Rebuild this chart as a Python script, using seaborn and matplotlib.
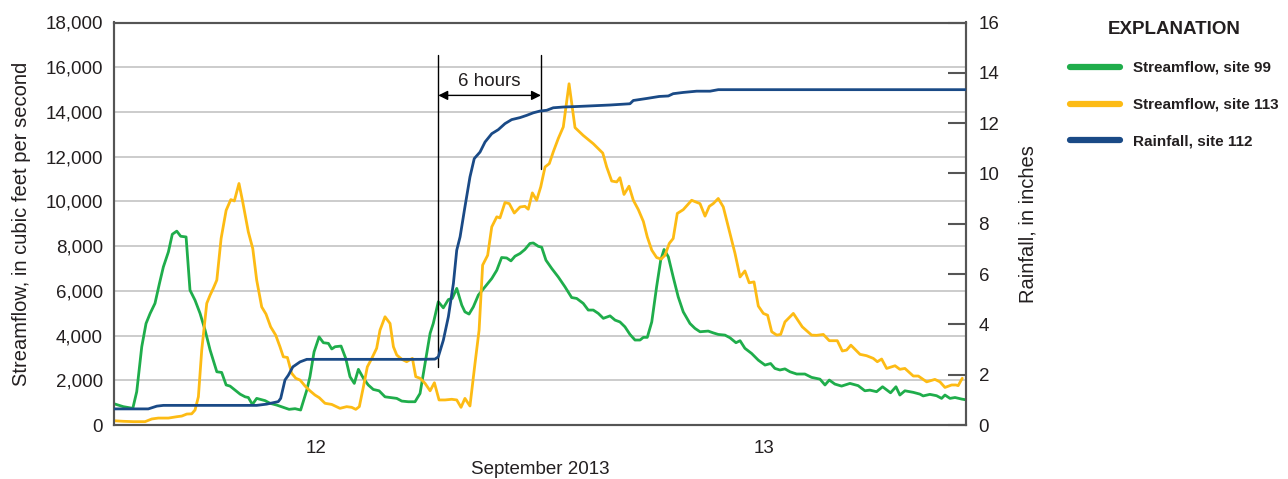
import numpy as np
import pandas as pd
import matplotlib
matplotlib.use("Agg")
import matplotlib.pyplot as plt
from matplotlib.lines import Line2D
import seaborn as sns

# ---------------- data (hours after 2013-09-12 00:00) ----------------
site99_hours = [1.13, 1.63, 2.14, 2.35, 2.62, 2.85, 3.07, 3.33, 3.57, 3.78, 4.05, 4.26, 4.50, 4.71, 5.00,
                5.21, 5.48, 5.75, 6.02, 6.29, 6.65, 6.91, 7.15, 7.36, 7.63, 7.90, 8.17, 8.34, 8.56, 8.79,
                9.24, 9.51, 9.87, 10.22, 10.53, 10.85, 11.15, 11.48, 11.65, 11.87, 12.14, 12.37, 12.64,
                12.82, 13.00, 13.32, 13.57, 13.80, 14.03, 14.25, 14.52, 14.78, 15.05, 15.36, 15.68, 16.04,
                16.31, 16.58, 16.93, 17.29, 17.56, 17.83, 18.10, 18.27, 18.54, 18.81, 19.08, 19.29, 19.53,
                19.80, 19.97, 20.19, 20.42, 20.69, 21.05, 21.41, 21.68, 21.94, 22.21, 22.44, 22.66, 22.93,
                23.19, 23.46, 23.64, 23.91, 24.09, 24.32, 24.63, 24.98, 25.34, 25.70, 25.97, 26.32, 26.59,
                26.86, 27.13, 27.40, 27.76, 28.03, 28.29, 28.56, 28.83, 29.10, 29.37, 29.55, 29.76, 30.00,
                30.26, 30.48, 30.66, 30.89, 31.15, 31.42, 31.69, 32.05, 32.32, 32.59, 33.03, 33.30, 33.57,
                33.93, 34.20, 34.52, 34.74, 35.00, 35.36, 35.72, 36.08, 36.38, 36.61, 36.88, 37.15, 37.42,
                37.78, 38.22, 38.58, 39.03, 39.30, 39.53, 39.83, 40.19, 40.64, 41.08, 41.44, 41.71, 42.07,
                42.39, 42.82, 43.11, 43.32, 43.59, 44.04, 44.40, 44.57, 44.93, 45.29, 45.56, 45.74, 46.01,
                46.28, 46.64, 46.90]
site99_cfs = [950, 820, 745, 1490, 3500, 4540, 4990, 5440, 6330, 7070, 7740, 8530, 8670, 8440, 8410,
              6030, 5580, 4990, 4240, 3350, 2380, 2350, 1790, 1740, 1560, 1380, 1260, 1230, 920, 1190,
              1090, 970, 890, 790, 700, 730, 670, 1560, 2160, 3270, 3940, 3680, 3650,
              3400, 3500, 3530, 2980, 2160, 1860, 2490, 2090, 1790, 1590, 1530, 1260, 1220,
              1190, 1070, 1040, 1040, 1410, 2750, 4100, 4540, 5510, 5240, 5610, 5660, 6110,
              5360, 5060, 4960, 5280, 5810, 6180, 6550, 6920, 7490, 7470, 7340, 7550, 7670,
              7850, 8120, 8140, 7990, 7950, 7370, 7000, 6620, 6180, 5700, 5660, 5440, 5140,
              5140, 4990, 4770, 4880, 4690, 4610, 4390, 4050, 3800, 3800, 3920, 3920, 4610,
              6180, 7370, 7850, 7520, 6620, 5730, 5060, 4540, 4320, 4170, 4200, 4120, 4050,
              4020, 3900, 3680, 3770, 3430, 3200, 2900, 2680, 2750, 2530, 2460, 2510, 2380,
              2280, 2280, 2130, 2050, 1790, 2010, 1830, 1740, 1860, 1760, 1530, 1560, 1490,
              1710, 1440, 1710, 1340, 1530, 1460, 1380, 1300, 1370, 1310, 1190, 1340, 1190,
              1230, 1160, 1120]

site113_hours = [1.13, 1.63, 2.17, 2.80, 3.16, 3.51, 4.05, 4.50, 4.77, 5.04, 5.30, 5.48, 5.66, 5.84, 6.11,
                 6.29, 6.46, 6.65, 6.88, 7.15, 7.40, 7.59, 7.84, 8.04, 8.34, 8.58, 8.79, 9.06, 9.29, 9.54,
                 9.81, 10.04, 10.22, 10.44, 10.67, 10.89, 11.12, 11.39, 11.65, 11.92, 12.15, 12.46, 12.82,
                 13.26, 13.62, 13.89, 14.11, 14.30, 14.52, 14.73, 14.97, 15.23, 15.41, 15.68, 15.95, 16.13,
                 16.31, 16.58, 16.84, 17.15, 17.33, 17.56, 17.83, 18.10, 18.33, 18.58, 18.90, 19.26, 19.53,
                 19.76, 19.97, 20.24, 20.51, 20.73, 20.92, 21.19, 21.41, 21.68, 21.85, 22.12, 22.35, 22.62,
                 22.93, 23.19, 23.37, 23.59, 23.82, 24.04, 24.27, 24.50, 24.71, 24.98, 25.25, 25.56, 25.88,
                 26.32, 26.86, 27.37, 27.58, 27.85, 28.12, 28.29, 28.51, 28.78, 29.01, 29.28, 29.55, 29.76,
                 30.00, 30.26, 30.50, 30.71, 30.94, 31.15, 31.37, 31.69, 32.14, 32.59, 32.86, 33.09, 33.30,
                 33.57, 33.84, 34.11, 34.47, 34.74, 35.00, 35.23, 35.49, 35.72, 35.99, 36.22, 36.44, 36.71,
                 36.92, 37.15, 37.60, 38.08, 38.58, 38.85, 39.21, 39.53, 39.96, 40.23, 40.46, 40.69, 41.18,
                 41.53, 41.89, 42.11, 42.34, 42.61, 43.06, 43.32, 43.59, 44.04, 44.31, 44.76, 45.20, 45.47,
                 45.74, 46.10, 46.33, 46.45, 46.67]
site113_cfs = [190, 165, 150, 150, 270, 310, 310, 370, 400, 490, 500, 670, 1260, 3350, 5440,
               5810, 6110, 6480, 8340, 9600, 10080, 10020, 10800, 9980, 8640, 7890, 6480, 5280, 4960, 4390,
               4020, 3500, 3050, 3020, 2310, 2090, 2010, 1740, 1530, 1340, 1220, 970, 920,
               745, 820, 790, 700, 820, 1710, 2600, 2980, 3430, 4240, 4840, 4540, 3500,
               3130, 2940, 2830, 2980, 2160, 2090, 1860, 1530, 1890, 1120, 1120, 1150, 1120,
               790, 1190, 850, 2750, 4240, 7150, 7590, 8860, 9310, 9260, 9950, 9900, 9480,
               9750, 9780, 9650, 10380, 10050, 10650, 11540, 11690, 12210, 12810, 13330, 15260, 13300,
               12950, 12580, 12160, 11540, 10910, 10870, 11060, 10310, 10680, 10050, 9630, 9100, 8410,
               7820, 7490, 7420, 7590, 8120, 8340, 9460, 9630, 10050, 9900, 9340, 9780, 9900,
               10130, 9750, 8860, 7670, 6620, 6890, 6360, 6400, 5320, 4990, 4910, 4170, 4020,
               4050, 4610, 4990, 4390, 4020, 4010, 4050, 3770, 3770, 3310, 3350, 3570, 3160,
               3100, 2980, 2830, 2950, 2530, 2650, 2490, 2530, 2190, 2190, 1930, 2040, 1930,
               1680, 1790, 1790, 1760, 2090]

rain112_hours = [1.13, 2.97, 3.43, 3.78, 6.29, 8.79, 9.33, 9.95, 10.08, 10.31, 10.49, 10.73, 11.12, 11.48,
                 17.56, 18.36, 18.54, 18.81, 19.08, 19.35, 19.53, 19.71, 19.97, 20.24, 20.47, 20.78, 21.05,
                 21.41, 21.76, 22.12, 22.48, 22.93, 23.29, 23.64, 24.00, 24.36, 24.71, 25.25, 25.97, 26.86,
                 27.76, 28.83, 29.01, 29.73, 30.40, 30.89, 31.15, 31.69, 32.41, 33.13, 33.57, 46.90]
rain112_in = [0.64, 0.64, 0.75, 0.78, 0.78, 0.78, 0.83, 0.93, 1.06, 1.79, 1.98, 2.31, 2.51, 2.61,
              2.61, 2.62, 2.71, 3.37, 4.30, 5.62, 6.95, 7.48, 8.67, 9.86, 10.59, 10.85, 11.25,
              11.58, 11.74, 11.98, 12.14, 12.22, 12.31, 12.41, 12.48, 12.51, 12.61, 12.64, 12.66, 12.69,
              12.72, 12.77, 12.90, 12.98, 13.06, 13.08, 13.17, 13.22, 13.27, 13.27, 13.33, 13.33]

series_labels = ["Streamflow, site 99", "Streamflow, site 113", "Rainfall, site 112"]
series_colors = ["#1fad4b", "#fdbb14", "#1a4a86"]
day_labels = ["12", "13"]
day_label_hours = [12, 36]
midnight_hour = [24]
flow_ticks = list(range(0, 18001, 2000))
rain_ticks = list(range(0, 17, 2))
xlim = (1.13, 46.87)

# annotation (6 hours)
ann_left_x, ann_right_x = 18.54, 24.05
ann_top = 16530
ann_left_bottom, ann_right_bottom = 2600, 11470
ann_arrow_y = 14740
ann_text = "6 hours"

# ---------------- style ----------------
sns.set_style("white")
plt.rcParams['font.family'] = ['Liberation Sans', 'DejaVu Sans']
text_color = "#231f20"
spine_color = "#555555"
fs = 13.5

fig = plt.figure(figsize=(12.88, 4.79), dpi=100)
ax = fig.add_axes([114/1288, 1-425/479, (966-114)/1288, (425-22.5)/479])

df99 = pd.DataFrame({"hours": site99_hours, "flow": site99_cfs})
df113 = pd.DataFrame({"hours": site113_hours, "flow": site113_cfs})
dfr = pd.DataFrame({"hours": rain112_hours, "rain": rain112_in})

ax.yaxis.grid(True, color="#cccccc", linewidth=1.4, zorder=0)
ax.set_axisbelow(True)
sns.lineplot(data=df99, x="hours", y="flow", ax=ax, color=series_colors[0], linewidth=2.0, zorder=3)
sns.lineplot(data=df113, x="hours", y="flow", ax=ax, color=series_colors[1], linewidth=2.0, zorder=3)

ax.set_xlim(*xlim)
ax.set_ylim(0, 18000)
ax.set_yticks(flow_ticks)
ax.set_yticklabels([f"{t:,}" for t in flow_ticks])
ax.tick_params(axis="y", length=0, labelsize=fs, colors=text_color, pad=8)
ax.set_xticks(midnight_hour)
ax.set_xticklabels([""])
ax.set_xticks(day_label_hours, minor=True)
ax.set_xticklabels(day_labels, minor=True)
ax.tick_params(axis="x", which="major", direction="in", length=12, width=1.5, color=spine_color)
ax.tick_params(axis="x", which="minor", length=0, labelsize=fs, colors=text_color, pad=11)
ax.set_xlabel("September 2013", fontsize=fs, color=text_color, labelpad=3)
ax.set_ylabel("Streamflow, in cubic feet per second", fontsize=14.5, color=text_color, labelpad=10)

ax2 = ax.twinx()
sns.lineplot(data=dfr, x="hours", y="rain", ax=ax2, color=series_colors[2], linewidth=2.0, zorder=4)
ax2.set_ylim(0, 16)
ax2.set_yticks(rain_ticks)
ax2.tick_params(axis="y", direction="in", length=13, width=1.5, color=spine_color,
                labelsize=fs, colors=text_color, pad=9)
ax2.set_ylabel("Rainfall, in inches", fontsize=14.5, color=text_color, labelpad=14)
ax2.set_xlim(*xlim)

for a in (ax, ax2):
    for s in a.spines.values():
        s.set_color(spine_color)
        s.set_linewidth(1.5)

# 6-hour annotation
ax.plot([ann_left_x, ann_left_x], [ann_left_bottom, ann_top], color="black", lw=1.0, zorder=5)
ax.plot([ann_right_x, ann_right_x], [ann_right_bottom, ann_top], color="black", lw=1.0, zorder=5)
ax.annotate("", xy=(ann_left_x, ann_arrow_y), xytext=(ann_right_x, ann_arrow_y),
            arrowprops=dict(arrowstyle="<|-|>", color="black", lw=1.0, mutation_scale=14,
                            shrinkA=0, shrinkB=0), zorder=6)
ax.text((ann_left_x + ann_right_x) / 2, ann_arrow_y + 250, ann_text, ha="center", va="bottom",
        fontsize=fs, color=text_color, zorder=6)

# legend
handles = [Line2D([0], [0], color=c, lw=4.5, solid_capstyle="round") for c in series_colors]
leg = fig.legend(handles, series_labels, loc="upper left", bbox_to_anchor=(1067/1288, 1-18/479),
                 frameon=False, title="EXPLANATION", handlelength=3.3, handletextpad=0.8,
                 labelspacing=1.5, borderaxespad=0, borderpad=0.2, prop=dict(weight="bold", size=11))
leg.get_title().set_fontweight("bold")
leg.get_title().set_fontsize(13.5)
leg.get_title().set_color(text_color)
for t in leg.get_texts():
    t.set_color(text_color)

fig.savefig("out.png", dpi=100)
